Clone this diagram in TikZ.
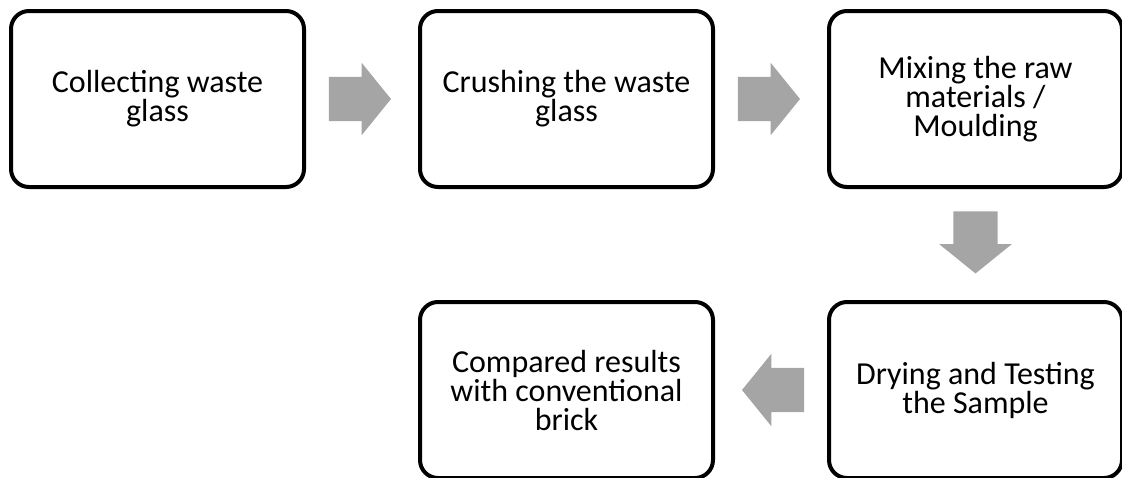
\documentclass[tikz,border=0pt]{standalone}
\usepackage{fontspec}
\setmainfont{Carlito}
\usetikzlibrary{shapes.arrows}
\definecolor{arrowgray}{HTML}{A5A5A5}

\begin{document}
\begin{tikzpicture}[x=1pt,y=-1pt,
    stage/.style={draw,line width=4pt,rounded corners=18pt,minimum width=293pt,minimum height=176pt,align=center,font=\fontsize{32}{29}\selectfont},
    flow/.style={single arrow,fill=arrowgray,inner xsep=0pt,inner ysep=22pt,minimum height=62pt,minimum width=72pt,single arrow head extend=14pt,single arrow tip angle=102}]
    \useasboundingbox (0,0) rectangle (1122,477);
    \node[stage] (collect) at (157.5,99) {Collecting waste\\glass};
    \node[stage] (crush) at (566.5,99) {Crushing the waste\\glass};
    \node[stage] (mix) at (975.5,99) {Mixing the raw\\materials /\\Moulding};
    \node[stage] (dry) at (975.5,390) {Drying and Testing\\the Sample};
    \node[stage] (compare) at (566.5,390) {Compared results\\with conventional\\brick};
    \path (collect) -- node[flow,xshift=-11pt]{} (crush);
    \path (crush) -- node[flow,xshift=-11pt]{} (mix);
    \path (mix) -- node[flow,shape border rotate=270,inner xsep=22pt,inner ysep=0pt,yshift=11pt]{} (dry);
    \path (dry) -- node[flow,shape border rotate=180,xshift=11pt]{} (compare);
\end{tikzpicture}
\end{document}
